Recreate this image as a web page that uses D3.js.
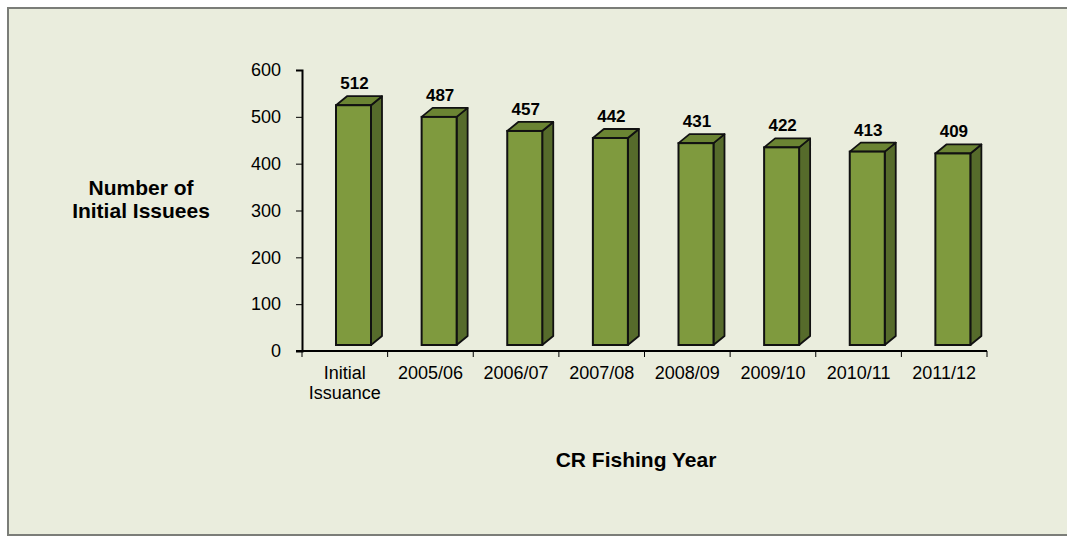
<!DOCTYPE html>
<html>
<head>
<meta charset="utf-8">
<script src="https://cdn.jsdelivr.net/npm/d3@7"></script>
<style>
  body { margin: 0; background: #fff; }
  svg { display: block; font-family: Arial, "Liberation Sans", sans-serif; }
</style>
</head>
<body>
<div id="chart"></div>
<script>
// chart data
const categories = ['Initial Issuance', '2005/06', '2006/07', '2007/08', '2008/09', '2009/10', '2010/11', '2011/12'];
const issuees = [512, 487, 457, 442, 431, 422, 413, 409];
const yTicks = [0, 100, 200, 300, 400, 500, 600];

const width = 1067;
const height = 536;
const plot = { left: 302, right: 987, top: 70, bottom: 351 };

// 3d look of the bars
const depthX = 11;
const depthY = 9;
const floorLift = 6;
const barW = 35;
const barOffset = 34;

const svg = d3.select('#chart').append('svg')
  .attr('width', width)
  .attr('height', height);

// panel
svg.append('rect')
  .attr('x', 8).attr('y', 8)
  .attr('width', width + 10).attr('height', 527)
  .attr('fill', '#eaeddd')
  .attr('stroke', '#7b7d78')
  .attr('stroke-width', 2);

const x = d3.scaleBand()
  .domain(categories)
  .range([plot.left, plot.right])
  .paddingInner(0).paddingOuter(0);

const y = d3.scaleLinear()
  .domain([0, 600])
  .range([plot.bottom, plot.top]);

// y axis
const yAxis = svg.append('g')
  .attr('transform', `translate(${plot.left},0)`)
  .call(d3.axisLeft(y).tickValues(yTicks).tickSize(6).tickPadding(15).tickFormat(d3.format('d')));
yAxis.select('.domain').attr('stroke', '#000').attr('stroke-width', 2);
yAxis.selectAll('.tick line').attr('stroke', '#000').attr('stroke-width', 1);
yAxis.selectAll('.tick text')
  .attr('fill', '#000')
  .style('font-size', '18px');

// x axis
const xAxis = svg.append('g')
  .attr('transform', `translate(0,${plot.bottom})`)
  .call(d3.axisBottom(x).tickSize(0).tickFormat(''));
xAxis.select('.domain').attr('stroke', '#000').attr('stroke-width', 2)
  .attr('d', `M${plot.left - 6},0H${plot.right}`);
const bounds = categories.map(c => x(c)).concat([plot.right]);
xAxis.selectAll('.sep')
  .data(bounds)
  .join('line')
  .attr('class', 'sep')
  .attr('x1', d => d).attr('x2', d => d)
  .attr('y1', 0).attr('y2', 6)
  .attr('stroke', '#000')
  .attr('stroke-width', 1);

// category labels, wrapped on spaces like the original
svg.append('g').selectAll('text')
  .data(categories)
  .join('text')
  .attr('x', d => x(d) + x.bandwidth() / 2)
  .attr('y', 379)
  .attr('text-anchor', 'middle')
  .style('font-size', '18px')
  .attr('fill', '#000')
  .each(function (d) {
    const words = d.split(' ');
    words.forEach((w, i) => {
      d3.select(this).append('tspan')
        .attr('x', x(d) + x.bandwidth() / 2)
        .attr('dy', i === 0 ? 0 : 20)
        .text(w);
    });
  });

// bars
const bars = svg.append('g').selectAll('g')
  .data(categories.map((c, i) => ({ cat: c, v: issuees[i] })))
  .join('g');

const x0 = d => x(d.cat) + barOffset;
const yTop = d => y(d.v) - floorLift;
const yBot = () => y(0) - floorLift;

// side face
bars.append('path')
  .attr('d', d => `M${x0(d) + barW},${yBot()}L${x0(d) + barW + depthX},${yBot() - depthY}`
    + `L${x0(d) + barW + depthX},${yTop(d) - depthY}L${x0(d) + barW},${yTop(d)}Z`)
  .attr('fill', '#566b2b')
  .attr('stroke', '#111')
  .attr('stroke-width', 1.8)
  .attr('stroke-linejoin', 'round');

// top face
bars.append('path')
  .attr('d', d => `M${x0(d)},${yTop(d)}L${x0(d) + depthX},${yTop(d) - depthY}`
    + `L${x0(d) + barW + depthX},${yTop(d) - depthY}L${x0(d) + barW},${yTop(d)}Z`)
  .attr('fill', '#6b8433')
  .attr('stroke', '#111')
  .attr('stroke-width', 1.8)
  .attr('stroke-linejoin', 'round');

// front face
bars.append('rect')
  .attr('x', x0)
  .attr('y', yTop)
  .attr('width', barW)
  .attr('height', d => yBot() - yTop(d))
  .attr('fill', '#7f9a3e')
  .attr('stroke', '#111')
  .attr('stroke-width', 2);

// value labels
bars.append('text')
  .attr('x', d => x0(d) + barW / 2 + 1)
  .attr('y', d => yTop(d) - depthY - 7)
  .attr('text-anchor', 'middle')
  .style('font-size', '17px')
  .style('font-weight', 'bold')
  .attr('fill', '#000')
  .text(d => d.v);

// axis titles
svg.append('text')
  .attr('x', 141).attr('y', 195)
  .attr('text-anchor', 'middle')
  .style('font-size', '21px').style('font-weight', 'bold')
  .text('Number of');
svg.append('text')
  .attr('x', 141).attr('y', 218)
  .attr('text-anchor', 'middle')
  .style('font-size', '21px').style('font-weight', 'bold')
  .text('Initial Issuees');

svg.append('text')
  .attr('x', 636).attr('y', 467)
  .attr('text-anchor', 'middle')
  .style('font-size', '21px').style('font-weight', 'bold')
  .text('CR Fishing Year');
</script>
</body>
</html>
